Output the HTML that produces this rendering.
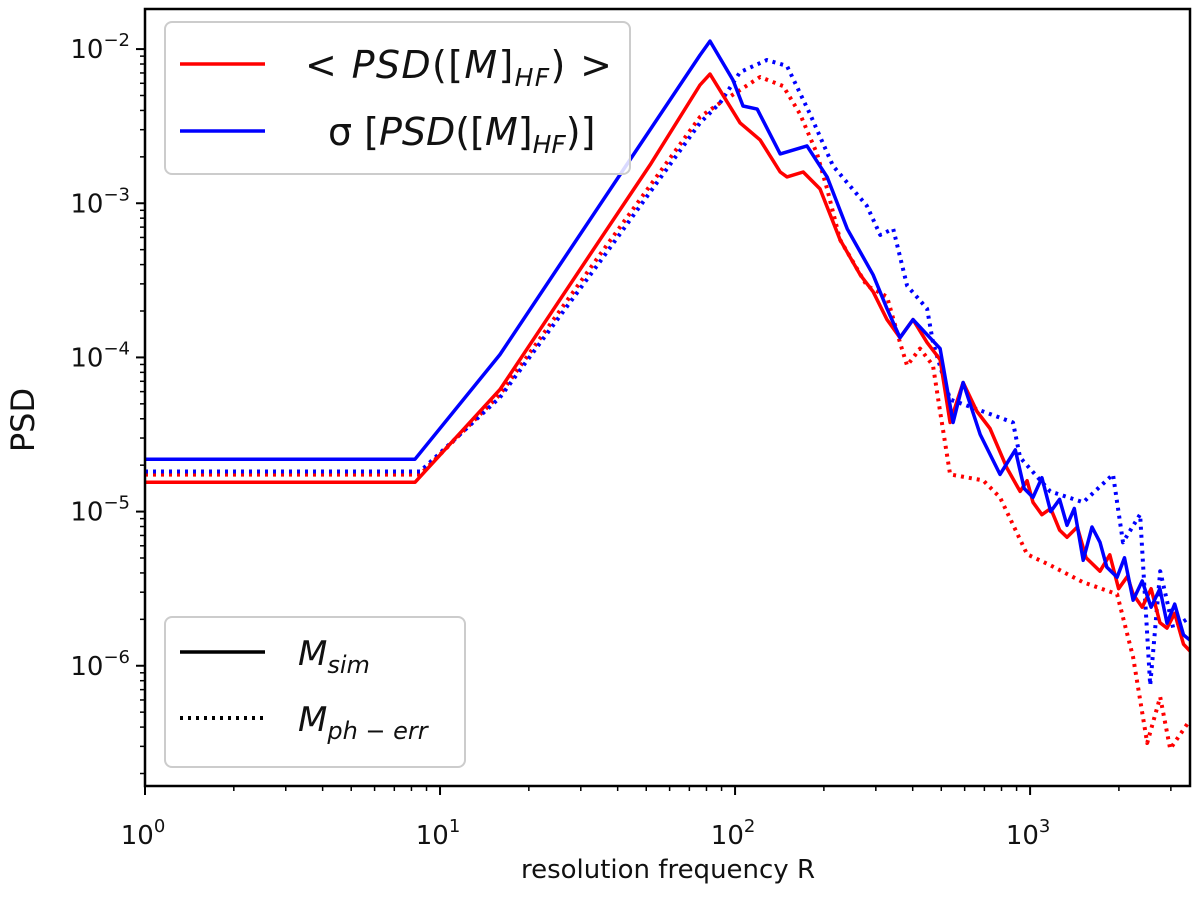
<!DOCTYPE html>
<html><head><meta charset="utf-8">
<style>
body{margin:0;background:#fff;}
svg text{font-family:"DejaVu Sans","Liberation Sans",sans-serif;}
</style></head>
<body>
<svg id="chart" width="1200" height="893" xmlns="http://www.w3.org/2000/svg">
<rect width="1200" height="893" fill="#fff"/>
<g id="marks"></g>
<g id="axes"></g>
<text transform="translate(34,420) rotate(-90)" text-anchor="middle" font-size="32" fill="#111">PSD</text>
<text x="668" y="878" text-anchor="middle" font-size="26" fill="#111">resolution frequency R</text>
<g>
<rect x="165" y="22" width="465" height="152" rx="7" fill="#fff" fill-opacity="0.85" stroke="#ccc" stroke-width="2"/>
<line x1="180" y1="64" x2="265" y2="64" stroke="#f00" stroke-width="3.5"/>
<line x1="180" y1="131" x2="265" y2="131" stroke="#00f" stroke-width="3.5"/>
<text x="305" y="78" font-size="38" font-style="italic" fill="#111" textLength="307"><tspan font-style="normal">&lt; </tspan>PSD<tspan font-style="normal">([</tspan>M<tspan font-style="normal">]</tspan><tspan font-size="25" dy="8">HF</tspan><tspan dy="-8" font-style="normal">) &gt;</tspan></text>
<text x="328" y="145" font-size="38" font-style="italic" fill="#111"><tspan font-style="normal">σ [</tspan>PSD<tspan font-style="normal">([</tspan>M<tspan font-style="normal">]</tspan><tspan font-size="25" dy="8">HF</tspan><tspan dy="-8" font-style="normal">)]</tspan></text>
</g>
<g>
<rect x="165" y="617" width="300" height="150" rx="7" fill="#fff" fill-opacity="0.85" stroke="#ccc" stroke-width="2"/>
<line x1="180" y1="652" x2="265" y2="652" stroke="#000" stroke-width="3.5"/>
<line x1="180" y1="718" x2="265" y2="718" stroke="#000" stroke-width="4" stroke-dasharray="3,5"/>
<text x="298" y="665" font-size="34" font-style="italic" fill="#111">M<tspan font-size="24" dy="8">sim</tspan></text>
<text x="298" y="731" font-size="34" font-style="italic" fill="#111">M<tspan font-size="24" dy="8">ph − err</tspan></text>
</g>
</svg>
<script>
// log10(R) and log10(PSD) values
const redSimLogR=[0,0.915,1.203,1.542,1.712,1.881,1.915,2.017,2.085,2.153,2.176,2.231,2.288,2.356,2.424,2.468,2.515,2.559,2.603,2.651,2.695,2.729,2.773,2.820,2.864,2.922,2.966,2.99,3.010,3.04,3.07,3.10,3.125,3.16,3.19,3.237,3.27,3.30,3.33,3.349,3.38,3.41,3.44,3.464,3.49,3.52,3.542];
const redSimLogPSD=[-4.81,-4.81,-4.209,-3.237,-2.751,-2.233,-2.162,-2.479,-2.589,-2.797,-2.829,-2.797,-2.907,-3.237,-3.464,-3.574,-3.755,-3.872,-3.755,-3.904,-4.014,-4.422,-4.163,-4.351,-4.461,-4.720,-4.869,-4.80,-4.940,-5.02,-4.98,-5.12,-5.167,-5.10,-5.30,-5.387,-5.28,-5.50,-5.42,-5.536,-5.62,-5.50,-5.72,-5.756,-5.66,-5.86,-5.905];
const blueSimLogR=[0,0.915,1.203,1.542,1.881,1.915,1.993,2.027,2.075,2.153,2.244,2.312,2.380,2.468,2.515,2.559,2.603,2.695,2.739,2.773,2.831,2.898,2.95,2.98,3.010,3.04,3.07,3.10,3.125,3.15,3.180,3.21,3.237,3.26,3.295,3.32,3.349,3.38,3.41,3.44,3.464,3.49,3.52,3.542];
const blueSimLogPSD=[-4.66,-4.66,-3.982,-3.010,-2.039,-1.948,-2.201,-2.369,-2.389,-2.680,-2.628,-2.829,-3.166,-3.464,-3.684,-3.872,-3.755,-3.943,-4.422,-4.163,-4.500,-4.759,-4.60,-4.85,-4.908,-4.78,-5.00,-4.92,-5.089,-4.98,-5.316,-5.10,-5.199,-5.36,-5.426,-5.30,-5.575,-5.45,-5.62,-5.50,-5.724,-5.60,-5.80,-5.834];
const redErrLogR=[0,0.932,1.203,1.542,1.881,1.949,2.085,2.163,2.220,2.278,2.312,2.356,2.447,2.515,2.559,2.583,2.627,2.671,2.695,2.729,2.841,2.898,2.990,3.068,3.180,3.295,3.349,3.397,3.441,3.475,3.542];
const redErrLogPSD=[-4.76,-4.76,-4.241,-3.334,-2.440,-2.350,-2.181,-2.240,-2.421,-2.680,-2.907,-3.237,-3.535,-3.606,-3.904,-4.053,-3.943,-4.053,-4.351,-4.759,-4.798,-4.908,-5.277,-5.348,-5.459,-5.536,-5.944,-6.501,-6.203,-6.540,-6.352];
const blueErrLogR=[0,0.932,1.203,1.542,1.881,1.949,2.017,2.108,2.176,2.254,2.332,2.447,2.492,2.536,2.583,2.651,2.671,2.729,2.841,2.942,2.966,3.068,3.180,3.281,3.315,3.373,3.407,3.441,3.485,3.542];
const blueErrLogPSD=[-4.74,-4.74,-4.260,-3.380,-2.479,-2.350,-2.149,-2.071,-2.110,-2.421,-2.758,-3.017,-3.205,-3.166,-3.535,-3.684,-3.904,-4.273,-4.351,-4.422,-4.649,-4.869,-4.940,-4.759,-5.199,-5.018,-6.126,-5.387,-5.756,-5.685];
const xTickExps=[0,1,2,3];
const yTickExps=[-2,-3,-4,-5,-6];

const L=145,R=1190,T=9,B=786;
const xMin=0,xMax=3.542,yMax=-1.74,yMin=-6.78;
function xs(l){return L+(l-xMin)/(xMax-xMin)*(R-L);}
function ys(l){return T+(yMax-l)/(yMax-yMin)*(B-T);}
const NS="http://www.w3.org/2000/svg";
const marks=document.getElementById('marks'),axes=document.getElementById('axes');
function mk(tag,attrs,parent){const e=document.createElementNS(NS,tag);for(const k in attrs)e.setAttribute(k,attrs[k]);parent.appendChild(e);return e;}
function series(lx,ly,color,dotted,name){
  const d=lx.map((v,i)=>(i?'L':'M')+xs(v).toFixed(1)+','+ys(ly[i]).toFixed(1)).join(' ');
  const p=mk('path',{d:d,fill:'none',stroke:color,'stroke-width':dotted?4:3.5,'stroke-linejoin':'round'},marks);
  if(dotted)p.setAttribute('stroke-dasharray','3,5');
  
  
}
series(redErrLogR,redErrLogPSD,'#f00',true,'mean-pherr-line');
series(blueErrLogR,blueErrLogPSD,'#00f',true,'sigma-pherr-line');
series(redSimLogR,redSimLogPSD,'#f00',false,'mean-sim-line');
series(blueSimLogR,blueSimLogPSD,'#00f',false,'sigma-sim-line');

mk('rect',{x:L,y:T,width:R-L,height:B-T,fill:'none',stroke:'#000','stroke-width':2.5},axes);
for(let e=0;e<=3;e++){for(let m=1;m<10;m++){const l=e+Math.log10(m);if(l>xMax)continue;const x=xs(l);mk('line',{x1:x,y1:B,x2:x,y2:B+(m==1?9:5),stroke:'#000','stroke-width':m==1?2:1.5},axes);}}
for(let e=-7;e<=-2;e++){for(let m=1;m<10;m++){const l=e+Math.log10(m);if(l<yMin||l>yMax)continue;const y=ys(l);mk('line',{x1:L,y1:y,x2:L-(m==1?9:5),y2:y,stroke:'#000','stroke-width':m==1?2:1.5},axes);}}
xTickExps.forEach(e=>{
  const t=mk('text',{x:xs(e)-2,y:B+58,'text-anchor':'middle','font-size':26,fill:'#111'},axes);
  t.innerHTML='10<tspan font-size="18" dy="-12">'+e+'</tspan>';
  
  
});
yTickExps.forEach(e=>{
  const t=mk('text',{x:L-15,y:ys(e)+9,'text-anchor':'end','font-size':26,fill:'#111'},axes);
  t.innerHTML='10<tspan font-size="18" dy="-12">−'+(-e)+'</tspan>';
  
  
});
</script>
</body></html>
